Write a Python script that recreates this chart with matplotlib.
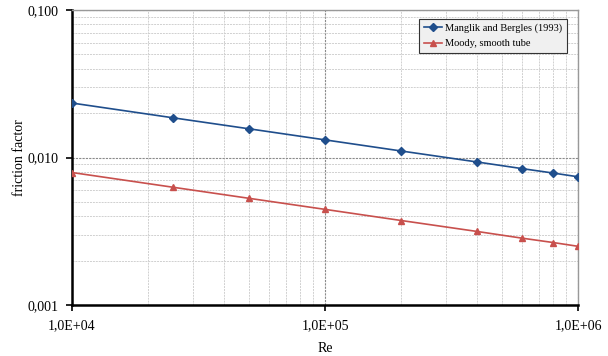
import matplotlib
matplotlib.use("Agg")
import matplotlib.pyplot as plt
from matplotlib.ticker import FixedLocator, LogLocator, NullFormatter, FixedFormatter

plt.rcParams['font.family'] = ['Liberation Serif', 'DejaVu Serif']

re_vals = [1e4, 2.5e4, 5e4, 1e5, 2e5, 4e5, 6e5, 8e5, 1e6]
manglik = [0.0234, 0.0186, 0.01566, 0.01317, 0.01107, 0.00932, 0.00841, 0.00784, 0.0074]
moody = [0.00791, 0.00629, 0.00529, 0.00445, 0.00374, 0.00315, 0.00284, 0.00265, 0.00250]
series_names = ["Manglik and Bergles (1993)", "Moody, smooth tube"]
x_ticks = [1e4, 1e5, 1e6]
x_ticklabels = ["1,0E+04", "1,0E+05", "1,0E+06"]
y_ticks = [0.001, 0.01, 0.1]
y_ticklabels = ["0,001", "0,010", "0,100"]

fig = plt.figure(figsize=(6.08, 3.56), dpi=100)
ax = fig.add_axes([72/608, 1-305/356, (578-72)/608, (305-10)/356])

ax.plot(re_vals, manglik, color='#1f4e8c', lw=1.2, marker='D', ms=4.2, label=series_names[0], zorder=3)
ax.plot(re_vals, moody, color='#c8504d', lw=1.2, marker='^', ms=4.8, label=series_names[1], zorder=3)

ax.set_xscale('log')
ax.set_yscale('log')
ax.set_xlim(1e4, 1e6)
ax.set_ylim(0.001, 0.1)

ax.xaxis.set_major_locator(FixedLocator(x_ticks))
ax.xaxis.set_major_formatter(FixedFormatter(x_ticklabels))
ax.yaxis.set_major_locator(FixedLocator(y_ticks))
ax.yaxis.set_major_formatter(FixedFormatter(y_ticklabels))
ax.xaxis.set_minor_locator(LogLocator(base=10, subs=range(2, 10)))
ax.yaxis.set_minor_locator(LogLocator(base=10, subs=range(2, 10)))
ax.xaxis.set_minor_formatter(NullFormatter())
ax.yaxis.set_minor_formatter(NullFormatter())

ax.grid(True, which='major', color='#8a8a8a', ls=(0, (2, 1)), lw=0.8)
ax.grid(True, which='minor', color='#d0d0d0', ls=(0, (2, 1)), lw=0.7)
ax.set_axisbelow(True)

for s in ['left', 'bottom']:
    ax.spines[s].set_linewidth(1.8)
    ax.spines[s].set_color('black')
for s in ['top', 'right']:
    ax.spines[s].set_linewidth(1.0)
    ax.spines[s].set_color('#999999')

ax.tick_params(which='major', direction='out', length=4, width=1.2, labelsize=10, pad=6)
ax.tick_params(axis='x', which='major', length=4, pad=6)
ax.tick_params(which='minor', length=0)

ax.set_xlabel("Re", fontsize=10, labelpad=7)
ax.set_ylabel("friction factor", fontsize=10, labelpad=1)

leg = ax.legend(loc='upper right', bbox_to_anchor=(0.978, 0.97), fontsize=7.5, frameon=True,
                fancybox=False, edgecolor='#333333', facecolor='#f0f0f0', framealpha=1,
                handlelength=1.8, handletextpad=0.25, borderpad=0.45, labelspacing=0.55,
                borderaxespad=0.0)
leg.get_frame().set_linewidth(0.8)

fig.savefig("out.png", dpi=100)
